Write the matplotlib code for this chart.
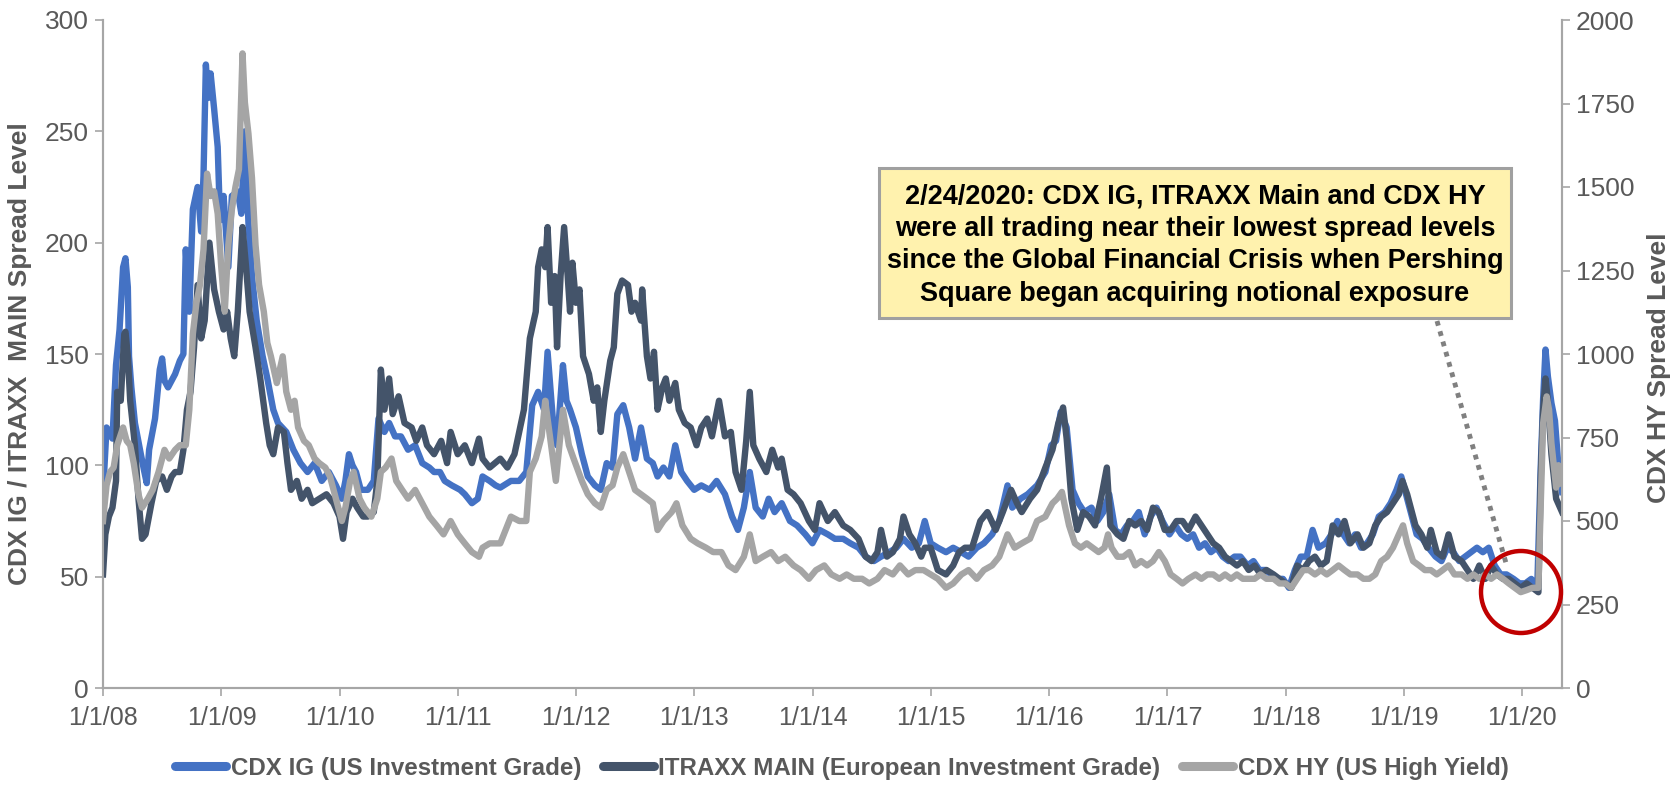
import numpy as np
import pandas as pd
import matplotlib
matplotlib.use("Agg")
import matplotlib.pyplot as plt
import matplotlib.dates as mdates
from matplotlib.patches import Rectangle, Ellipse
from matplotlib.lines import Line2D

plt.rcParams['font.family'] = ['Liberation Sans', 'DejaVu Sans']

# ---------------- data (decimal-year dates, spread levels) ----------------
ig_t = [2008.00, 2008.03, 2008.08, 2008.11, 2008.14, 2008.17, 2008.19, 2008.21, 2008.22, 2008.24, 2008.27, 2008.32, 2008.35, 2008.37, 2008.39, 2008.44, 2008.48, 2008.50, 2008.52, 2008.55, 2008.61, 2008.65, 2008.68, 2008.70, 2008.73, 2008.76, 2008.80, 2008.83, 2008.85, 2008.87, 2008.89, 2008.91, 2008.94, 2008.97, 2008.99,
        2009.02, 2009.06, 2009.09, 2009.14, 2009.17, 2009.20, 2009.23, 2009.26, 2009.30, 2009.35, 2009.39, 2009.44, 2009.48, 2009.55, 2009.61, 2009.67, 2009.73, 2009.79, 2009.85, 2009.91, 2009.97,
        2010.02, 2010.05, 2010.08, 2010.11, 2010.14, 2010.18, 2010.24, 2010.29, 2010.33, 2010.38, 2010.42, 2010.47, 2010.52, 2010.58, 2010.64, 2010.70, 2010.76, 2010.80, 2010.85, 2010.89, 2010.95,
        2011.02, 2011.06, 2011.12, 2011.17, 2011.21, 2011.27, 2011.32, 2011.36, 2011.45, 2011.52, 2011.58, 2011.63, 2011.68, 2011.73, 2011.76, 2011.81, 2011.84, 2011.89, 2011.92, 2011.95,
        2012.00, 2012.05, 2012.10, 2012.16, 2012.21, 2012.26, 2012.31, 2012.35, 2012.40, 2012.45, 2012.50, 2012.55, 2012.60, 2012.65, 2012.69, 2012.74, 2012.79, 2012.84, 2012.89, 2012.94,
        2013.00, 2013.06, 2013.13, 2013.19, 2013.26, 2013.32, 2013.37, 2013.42, 2013.47, 2013.52, 2013.58, 2013.63, 2013.68, 2013.74, 2013.81, 2013.87, 2013.94,
        2014.00, 2014.06, 2014.13, 2014.19, 2014.26, 2014.32, 2014.39, 2014.45, 2014.52, 2014.58, 2014.65, 2014.71, 2014.77, 2014.84, 2014.90, 2014.95,
        2015.00, 2015.06, 2015.13, 2015.19, 2015.26, 2015.32, 2015.39, 2015.45, 2015.52, 2015.58, 2015.65, 2015.69, 2015.76, 2015.82, 2015.90, 2015.97,
        2016.02, 2016.06, 2016.10, 2016.15, 2016.20, 2016.25, 2016.30, 2016.36, 2016.41, 2016.46, 2016.51, 2016.56, 2016.61, 2016.66, 2016.71, 2016.76, 2016.81, 2016.86, 2016.91, 2016.96,
        2017.02, 2017.07, 2017.12, 2017.17, 2017.22, 2017.27, 2017.32, 2017.37, 2017.42, 2017.47, 2017.52, 2017.57, 2017.62, 2017.68, 2017.73, 2017.78, 2017.83, 2017.88, 2017.93, 2017.98,
        2018.03, 2018.08, 2018.13, 2018.18, 2018.23, 2018.28, 2018.34, 2018.39, 2018.44, 2018.49, 2018.54, 2018.59, 2018.64, 2018.69, 2018.74, 2018.79, 2018.84, 2018.89, 2018.94, 2018.98,
        2019.01, 2019.06, 2019.11, 2019.16, 2019.21, 2019.27, 2019.32, 2019.37, 2019.42, 2019.47, 2019.52, 2019.57, 2019.62, 2019.67, 2019.72, 2019.77, 2019.82, 2019.87, 2019.93, 2019.98,
        2020.03, 2020.08, 2020.13, 2020.16, 2020.18, 2020.20, 2020.22, 2020.25, 2020.28, 2020.31, 2020.34]
ig_v = [87, 117, 112, 145, 161, 189, 193, 180, 149, 135, 119, 105, 97, 92, 107, 121, 143, 148, 138, 135, 141, 147, 150, 197, 169, 215, 225, 205, 230, 280, 265, 276, 260, 243, 210,
        221, 189, 221, 223, 213, 250, 209, 185, 165, 149, 139, 125, 119, 115, 107, 101, 97, 101, 93, 97, 91,
        85, 93, 105, 100, 97, 89, 89, 93, 121, 115, 119, 113, 113, 107, 109, 101, 99, 97, 97, 93, 91,
        89, 87, 83, 85, 95, 93, 91, 90, 93, 93, 97, 127, 133, 125, 151, 117, 109, 145, 129, 125,
        117, 105, 95, 91, 89, 101, 99, 123, 127, 117, 103, 117, 103, 101, 95, 99, 95, 109, 97, 93,
        89, 91, 89, 93, 87, 77, 71, 81, 97, 81, 77, 85, 79, 83, 75, 73, 69,
        65, 71, 69, 67, 67, 65, 63, 59, 57, 59, 61, 63, 67, 63, 65, 75,
        65, 63, 61, 63, 61, 59, 63, 65, 69, 75, 91, 81, 85, 87, 91, 97,
        109, 111, 124, 117, 89, 83, 79, 81, 75, 79, 87, 71, 69, 73, 75, 79, 69, 77, 81, 75,
        69, 73, 69, 67, 69, 63, 65, 61, 63, 59, 57, 59, 59, 55, 57, 53, 53, 51, 49, 49,
        45, 53, 59, 59, 71, 63, 65, 69, 75, 69, 65, 69, 63, 65, 69, 77, 79, 83, 89, 95,
        89, 79, 69, 67, 63, 59, 57, 63, 61, 57, 59, 61, 63, 61, 63, 55, 51, 51, 49, 47,
        47, 49, 45, 100, 130, 152, 140, 128, 120, 99, 88]

itx_t = [2008.00, 2008.02, 2008.05, 2008.08, 2008.11, 2008.12, 2008.15, 2008.18, 2008.19, 2008.21, 2008.23, 2008.27, 2008.30, 2008.33, 2008.36, 2008.41, 2008.45, 2008.50, 2008.54, 2008.58, 2008.61, 2008.65, 2008.68, 2008.71, 2008.74, 2008.77, 2008.80, 2008.83, 2008.86, 2008.90, 2008.94, 2008.98,
         2009.02, 2009.05, 2009.08, 2009.11, 2009.14, 2009.17, 2009.18, 2009.21, 2009.24, 2009.29, 2009.33, 2009.38, 2009.41, 2009.44, 2009.48, 2009.53, 2009.56, 2009.59, 2009.64, 2009.68, 2009.73, 2009.77, 2009.83, 2009.89, 2009.95,
         2010.00, 2010.03, 2010.06, 2010.11, 2010.15, 2010.20, 2010.24, 2010.29, 2010.32, 2010.35, 2010.38, 2010.42, 2010.45, 2010.50, 2010.55, 2010.61, 2010.65, 2010.70, 2010.74, 2010.80, 2010.86, 2010.91, 2010.94,
         2011.00, 2011.06, 2011.12, 2011.18, 2011.21, 2011.27, 2011.36, 2011.42, 2011.48, 2011.52, 2011.56, 2011.61, 2011.66, 2011.68, 2011.71, 2011.74, 2011.76, 2011.79, 2011.82, 2011.84, 2011.87, 2011.90, 2011.93, 2011.95, 2011.97,
         2012.00, 2012.03, 2012.06, 2012.11, 2012.15, 2012.18, 2012.21, 2012.24, 2012.29, 2012.32, 2012.35, 2012.39, 2012.44, 2012.47, 2012.50, 2012.55, 2012.56, 2012.60, 2012.63, 2012.66, 2012.69, 2012.73, 2012.76, 2012.79, 2012.84, 2012.87, 2012.92, 2012.97,
         2013.02, 2013.06, 2013.11, 2013.15, 2013.21, 2013.26, 2013.31, 2013.35, 2013.40, 2013.44, 2013.47, 2013.50, 2013.55, 2013.61, 2013.66, 2013.71, 2013.74, 2013.79, 2013.84, 2013.90, 2013.97,
         2014.02, 2014.06, 2014.13, 2014.19, 2014.26, 2014.32, 2014.39, 2014.45, 2014.50, 2014.55, 2014.58, 2014.63, 2014.68, 2014.74, 2014.77, 2014.82, 2014.87, 2014.92, 2014.95,
         2015.00, 2015.06, 2015.13, 2015.19, 2015.24, 2015.29, 2015.35, 2015.42, 2015.48, 2015.55, 2015.61, 2015.68, 2015.73, 2015.77, 2015.84, 2015.90, 2015.97,
         2016.03, 2016.08, 2016.12, 2016.15, 2016.19, 2016.24, 2016.29, 2016.34, 2016.39, 2016.44, 2016.49, 2016.52, 2016.58, 2016.63, 2016.68, 2016.73, 2016.78, 2016.83, 2016.88, 2016.93, 2016.98,
         2017.03, 2017.08, 2017.13, 2017.18, 2017.24, 2017.29, 2017.34, 2017.39, 2017.44, 2017.49, 2017.54, 2017.59, 2017.64, 2017.69, 2017.74, 2017.79, 2017.84, 2017.90, 2017.95,
         2018.00, 2018.05, 2018.10, 2018.15, 2018.20, 2018.25, 2018.30, 2018.35, 2018.40, 2018.45, 2018.50, 2018.55, 2018.61, 2018.66, 2018.71, 2018.76, 2018.81, 2018.86, 2018.91, 2018.96, 2018.99,
         2019.03, 2019.06, 2019.10, 2019.15, 2019.20, 2019.23, 2019.28, 2019.33, 2019.38, 2019.43, 2019.49, 2019.54, 2019.59, 2019.64, 2019.69, 2019.74, 2019.79, 2019.84, 2019.89, 2019.94, 2019.99,
         2020.04, 2020.09, 2020.14, 2020.16, 2020.18, 2020.20, 2020.22, 2020.25, 2020.29, 2020.34]
itx_v = [51, 69, 77, 81, 93, 133, 129, 159, 160, 149, 129, 109, 85, 67, 69, 83, 93, 95, 89, 95, 97, 97, 107, 125, 133, 153, 181, 157, 165, 200, 179, 169,
         161, 169, 157, 149, 169, 197, 207, 189, 169, 153, 139, 119, 109, 105, 117, 115, 101, 89, 93, 85, 89, 83, 85, 87, 83,
         77, 67, 79, 85, 81, 77, 77, 79, 93, 143, 125, 139, 123, 131, 119, 117, 111, 117, 109, 105, 111, 101, 115,
         105, 109, 101, 112, 103, 99, 103, 99, 105, 115, 125, 157, 169, 189, 197, 189, 207, 173, 185, 153, 185, 207, 185, 169, 191,
         173, 179, 149, 141, 129, 135, 115, 129, 147, 153, 177, 183, 181, 169, 173, 165, 179, 149, 139, 151, 125, 135, 139, 129, 137, 125, 119, 117,
         109, 117, 121, 113, 129, 113, 115, 97, 89, 111, 133, 109, 103, 97, 107, 99, 103, 89, 87, 83, 75,
         71, 83, 75, 79, 73, 71, 67, 59, 57, 61, 71, 59, 61, 67, 77, 69, 65, 59, 63,
         63, 53, 51, 55, 61, 63, 63, 75, 79, 71, 79, 89, 83, 79, 85, 89, 99,
         107, 119, 126, 112, 85, 71, 79, 77, 73, 85, 99, 73, 69, 67, 75, 73, 75, 71, 81, 79, 71,
         71, 75, 75, 71, 77, 73, 69, 65, 63, 59, 57, 55, 57, 53, 55, 51, 53, 51, 49,
         47, 45, 55, 53, 57, 59, 55, 57, 73, 69, 75, 65, 69, 63, 65, 73, 77, 79, 83, 87, 93,
         87, 81, 73, 69, 63, 71, 61, 59, 69, 59, 57, 53, 49, 55, 49, 55, 51, 49, 49, 47, 45,
         47, 45, 43, 95, 125, 139, 129, 105, 85, 79]

hy_t = [2008.00, 2008.03, 2008.06, 2008.09, 2008.12, 2008.17, 2008.20, 2008.23, 2008.26, 2008.30, 2008.33, 2008.38, 2008.42, 2008.47, 2008.52, 2008.56, 2008.61, 2008.65, 2008.70, 2008.73, 2008.76, 2008.79, 2008.82, 2008.85, 2008.88, 2008.91, 2008.94, 2008.97,
        2009.00, 2009.03, 2009.06, 2009.09, 2009.12, 2009.15, 2009.18, 2009.20, 2009.23, 2009.26, 2009.29, 2009.32, 2009.36, 2009.39, 2009.42, 2009.47, 2009.52, 2009.55, 2009.59, 2009.62, 2009.65, 2009.70, 2009.74, 2009.79, 2009.83, 2009.88, 2009.92, 2009.97,
        2010.02, 2010.05, 2010.09, 2010.12, 2010.17, 2010.21, 2010.27, 2010.32, 2010.35, 2010.39, 2010.44, 2010.48, 2010.53, 2010.58, 2010.64, 2010.70, 2010.76, 2010.82, 2010.88, 2010.94,
        2011.00, 2011.06, 2011.12, 2011.18, 2011.21, 2011.27, 2011.36, 2011.45, 2011.52, 2011.58, 2011.61, 2011.66, 2011.71, 2011.74, 2011.79, 2011.83, 2011.89, 2011.94, 2011.98,
        2012.05, 2012.10, 2012.16, 2012.21, 2012.26, 2012.31, 2012.35, 2012.40, 2012.45, 2012.50, 2012.55, 2012.60, 2012.65, 2012.69, 2012.74, 2012.81, 2012.85, 2012.90, 2012.97,
        2013.03, 2013.10, 2013.16, 2013.23, 2013.29, 2013.35, 2013.42, 2013.47, 2013.52, 2013.58, 2013.65, 2013.71, 2013.77, 2013.84, 2013.90, 2013.97,
        2014.03, 2014.10, 2014.16, 2014.23, 2014.29, 2014.35, 2014.42, 2014.48, 2014.55, 2014.61, 2014.68, 2014.74, 2014.81, 2014.87, 2014.94,
        2015.00, 2015.06, 2015.13, 2015.19, 2015.26, 2015.32, 2015.39, 2015.45, 2015.52, 2015.58, 2015.65, 2015.71, 2015.77, 2015.84, 2015.90, 2015.97,
        2016.03, 2016.07, 2016.11, 2016.17, 2016.22, 2016.27, 2016.32, 2016.37, 2016.42, 2016.47, 2016.50, 2016.53, 2016.58, 2016.63, 2016.68, 2016.73, 2016.78, 2016.83, 2016.88, 2016.93, 2016.98,
        2017.03, 2017.08, 2017.13, 2017.18, 2017.24, 2017.29, 2017.34, 2017.39, 2017.44, 2017.49, 2017.54, 2017.59, 2017.64, 2017.69, 2017.74, 2017.79, 2017.84, 2017.90, 2017.95,
        2018.00, 2018.05, 2018.10, 2018.15, 2018.20, 2018.25, 2018.30, 2018.35, 2018.40, 2018.45, 2018.50, 2018.55, 2018.61, 2018.66, 2018.71, 2018.76, 2018.81, 2018.86, 2018.91, 2018.96, 2018.995,
        2019.03, 2019.08, 2019.13, 2019.18, 2019.23, 2019.28, 2019.33, 2019.38, 2019.43, 2019.49, 2019.54, 2019.59, 2019.64, 2019.69, 2019.74, 2019.79, 2019.84, 2019.89, 2019.94, 2019.99,
        2020.04, 2020.09, 2020.14, 2020.16, 2020.18, 2020.21, 2020.23, 2020.25, 2020.29, 2020.31, 2020.34]
hy_v = [500, 607, 647, 660, 727, 780, 740, 727, 673, 580, 540, 567, 593, 647, 713, 687, 713, 727, 727, 833, 1060, 1153, 1207, 1313, 1540, 1473, 1487, 1420,
        1260, 1127, 1327, 1433, 1500, 1553, 1900, 1753, 1660, 1527, 1327, 1207, 1127, 1033, 993, 913, 993, 887, 833, 860, 780, 740, 727, 687, 673, 660, 633, 567,
        500, 540, 620, 647, 567, 540, 513, 567, 647, 660, 687, 620, 593, 567, 593, 553, 513, 487, 460, 500,
        460, 433, 407, 393, 420, 433, 433, 513, 500, 500, 647, 687, 753, 860, 727, 620, 833, 727, 687,
        620, 580, 553, 540, 593, 607, 660, 700, 647, 593, 580, 567, 553, 473, 500, 527, 553, 487, 447,
        433, 420, 407, 407, 367, 353, 393, 460, 380, 393, 407, 380, 393, 367, 353, 327,
        353, 367, 340, 327, 340, 327, 327, 313, 327, 353, 340, 367, 340, 353, 353,
        340, 327, 300, 313, 340, 353, 327, 353, 367, 393, 460, 420, 433, 447, 500, 513,
        553, 567, 587, 487, 433, 420, 433, 420, 407, 420, 460, 420, 393, 393, 407, 367, 380, 367, 380, 407, 380,
        340, 327, 313, 327, 340, 327, 340, 340, 327, 340, 327, 340, 327, 327, 327, 340, 327, 327, 313,
        313, 300, 327, 353, 353, 340, 353, 340, 353, 367, 353, 340, 340, 327, 327, 340, 380, 393, 420, 460, 487,
        433, 380, 367, 353, 353, 340, 353, 367, 340, 340, 327, 340, 327, 340, 327, 340, 327, 313, 300, 287,
        293, 300, 300, 553, 793, 873, 833, 733, 600, 667, 613]

legend_labels = ["CDX IG (US Investment Grade)",
                 "ITRAXX MAIN (European Investment Grade)",
                 "CDX HY (US High Yield)"]
xtick_years = list(range(2008, 2021))
left_ticks = [0, 50, 100, 150, 200, 250, 300]
right_ticks = [0, 250, 500, 750, 1000, 1250, 1500, 1750, 2000]
note = ("2/24/2020: CDX IG, ITRAXX Main and CDX HY\n"
        "were all trading near their lowest spread levels\n"
        "since the Global Financial Crisis when Pershing\n"
        "Square began acquiring notional exposure")

# ---------------- helpers ----------------
BASE = pd.Timestamp("2008-01-01")


def to_dates(years):
    y = np.asarray(years, dtype=float)
    return BASE + pd.to_timedelta((y - 2008.0) * 365.25, unit="D")


C_IG = "#4472C4"
C_ITX = "#44546A"
C_HY = "#A5A5A5"
TXT = "#595959"
SPINE = "#A6A6A6"

W, H = 1677, 786
fig = plt.figure(figsize=(W / 100, H / 100), dpi=100)
L, R, T, B = 103, 1562, 20, 688
ax = fig.add_axes([L / W, 1 - B / H, (R - L) / W, (B - T) / H])
ax2 = ax.twinx()

lw = 4.6
ax.plot(to_dates(ig_t), ig_v, color=C_IG, lw=lw, solid_joinstyle="round", zorder=2)
ax.plot(to_dates(itx_t), itx_v, color=C_ITX, lw=lw, solid_joinstyle="round", zorder=3)
ax2.plot(to_dates(hy_t), hy_v, color=C_HY, lw=lw, solid_joinstyle="round", zorder=2)

ax.set_xlim(pd.Timestamp("2008-01-01"), pd.Timestamp("2020-05-04"))
ax.set_ylim(0, 300)
ax2.set_ylim(0, 2000)
ax.set_yticks(left_ticks)
ax2.set_yticks(right_ticks)
ax.set_xticks([pd.Timestamp(f"{y}-01-01") for y in xtick_years])
ax.xaxis.set_major_formatter(mdates.DateFormatter("%-m/%-d/%y"))

for a in (ax, ax2):
    a.spines["top"].set_visible(False)
    for s in ("left", "right", "bottom"):
        a.spines[s].set_color(SPINE)
        a.spines[s].set_linewidth(1.5)
    a.tick_params(axis="both", colors=SPINE, labelcolor=TXT, width=1.2, length=6, direction="out")
ax.tick_params(axis="y", labelsize=19, pad=4)
ax.tick_params(axis="x", labelsize=18, pad=7)
ax2.tick_params(axis="y", labelsize=19, pad=4)

ax.set_ylabel("CDX IG / ITRAXX  MAIN Spread Level", fontsize=19, fontweight="bold", color=TXT)
ax.yaxis.set_label_coords((32 - L) / (R - L), 0.5)
ax2.set_ylabel("CDX HY Spread Level", fontsize=19, fontweight="bold", color=TXT, rotation=90)
ax2.yaxis.set_label_coords((1647 - L) / (R - L), 0.48)

# legend
handles = [Line2D([], [], color=c, lw=6.5, solid_capstyle="round") for c in (C_IG, C_ITX, C_HY)]
leg = fig.legend(handles, legend_labels, loc="center", bbox_to_anchor=(0.502, 1 - 768 / H),
                 ncol=3, frameon=False, handlelength=2.1, handletextpad=0.2, columnspacing=0.9,
                 prop={"size": 17.4, "weight": "bold"})
for t in leg.get_texts():
    t.set_color(TXT)

# annotation box
bx0, bx1, by0, by1 = 879, 1511, 168, 318
fig.patches.append(Rectangle((bx0 / W, 1 - by1 / H), (bx1 - bx0) / W, (by1 - by0) / H,
                             transform=fig.transFigure, facecolor="#FFF2AE", edgecolor="#A0A0A0",
                             linewidth=2.2, zorder=5))
fig.text((bx0 + bx1) / 2 / W, 1 - (by0 + by1 + 4) / 2 / H, note, ha="center", va="center",
         fontsize=19.5, fontweight="bold", color="black", linespacing=1.33, zorder=6)

# dotted connector
fig.add_artist(Line2D([1437 / W, 1506 / W], [1 - 321 / H, 1 - 563 / H], transform=fig.transFigure,
                      color="#808080", lw=3.5, linestyle=(0, (1, 1.2)), zorder=4))
# red circle
fig.patches.append(Ellipse((1521 / W, 1 - 592 / H), 80 / W, 82 / H, transform=fig.transFigure,
                           facecolor="none", edgecolor="#C00000", linewidth=3.2, zorder=6))

fig.savefig("out.png", dpi=100)
